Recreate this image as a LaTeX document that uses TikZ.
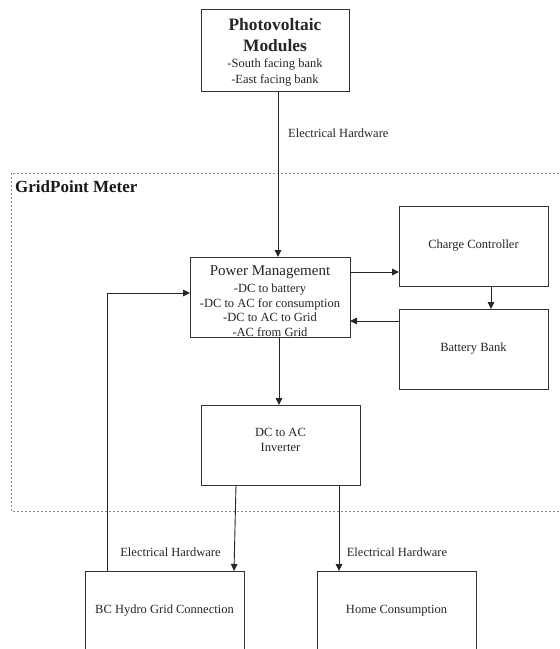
\documentclass[tikz,border=0pt]{standalone}
\usepackage{fontspec}
\setmainfont{Liberation Serif}
\usetikzlibrary{arrows.meta,calc}
\begin{document}
\begin{tikzpicture}[x=1pt,y=-1pt,
  box/.style={draw=black!80, line width=0.9pt, rectangle, inner sep=0pt, outer sep=0pt, align=center, text=black!85},
  body/.style={font=\fontsize{12.5}{14.5}\selectfont},
  arr/.style={draw=black!85, line width=0.9pt, -{Triangle[length=7pt,width=6.5pt]}},
  lbl/.style={font=\fontsize{12.5}{14.5}\selectfont, text=black!85, inner sep=0pt},
  meterbox/.style={draw=black!45, line width=0.8pt, dash pattern=on 2pt off 2pt}
]
\useasboundingbox (0,0) rectangle (560,649);
\clip (0,0) rectangle (560,649);
\fill[white] (0,0) rectangle (560,649);

% dashed GridPoint Meter region
\draw[meterbox] (11,173) rectangle (563,511);
\node[anchor=west, font=\fontsize{17}{20}\selectfont\bfseries, text=black!90, inner sep=0pt] (meterlbl) at (15,187) {GridPoint Meter};

% boxes
\node[box, font=\fontsize{12.5}{16}\selectfont, minimum width=148pt, minimum height=82pt] (pv) at (275,50)
  {{\fontsize{17.4}{21}\selectfont\bfseries Photovoltaic}\\[5pt]
   {\fontsize{17.4}{21}\selectfont\bfseries Modules}\\[0pt]
   -South facing bank\\
   -East facing bank\\[-18.8pt]\mbox{}};

\node[box, font=\fontsize{12.5}{14.5}\selectfont, minimum width=160pt, minimum height=80pt] (pm) at (270,297)
  {{\fontsize{15}{17}\selectfont Power Management}\\[2.5pt]
   -DC to battery\\
   -DC to AC for consumption\\
   -DC to AC to Grid\\
   -AC from Grid\\[-22.5pt]\mbox{}};

\node[box, body, minimum width=149pt, minimum height=80pt] (cc) at (473.5,246) {Charge Controller};
\node[box, body, minimum width=149pt, minimum height=80pt] (bb) at (473.5,349) {Battery Bank};
\node[box, body, minimum width=159pt, minimum height=80pt] (inv) at (280.5,445) {DC to AC\\Inverter\\[-4pt]\mbox{}};
\node[box, body, minimum width=159pt, minimum height=80pt] (bc) at (164.5,611) {BC Hydro Grid Connection};
\node[box, body, minimum width=159pt, minimum height=80pt] (home) at (396.5,611) {Home Consumption};

% connectors
\draw[arr] (pv.south -| 278,0) -- (pm.north -| 278,0);
\node[lbl, anchor=west] (eh1) at (288,133) {Electrical Hardware};

\draw[arr] ([yshift=25pt]pm.east) -- ([yshift=25pt]pm.east -| cc.west);
\draw[arr] ([xshift=17.5pt]cc.south) -- ([xshift=17.5pt]cc.south |- bb.north);
\draw[arr] ([yshift=28pt]bb.west) -- ([yshift=28pt]bb.west -| pm.east);
\draw[arr] ([xshift=9pt]pm.south) -- ([xshift=9pt]pm.south |- inv.north);

\draw[arr] ([xshift=-44.5pt]inv.south) -- ([xshift=69.5pt]bc.north);
\draw[arr] ([xshift=58.5pt]inv.south) -- ([xshift=-57.5pt]home.north);
\draw[arr] ([xshift=-57.5pt]bc.north) |- ([yshift=4pt]pm.west);

\node[lbl] (eh2) at (170.5,552) {Electrical Hardware};
\node[lbl] (eh3) at (397,552) {Electrical Hardware};
\end{tikzpicture}
\end{document}
